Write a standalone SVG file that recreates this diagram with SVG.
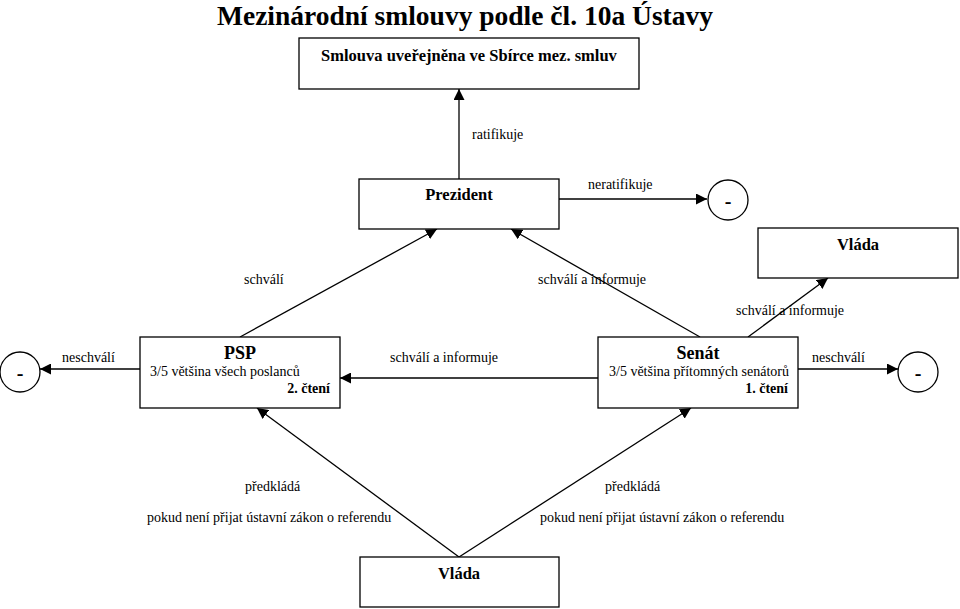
<svg xmlns="http://www.w3.org/2000/svg" width="960" height="609" viewBox="0 0 960 609" font-family="'Liberation Serif','Times New Roman',serif">
<defs>
<style>
text{font-family:"Liberation Serif","Times New Roman",serif;fill:#000}
.t{font-size:27.5px;font-weight:bold}
.b{font-size:16.5px;font-weight:bold}
.h{font-size:18px;font-weight:bold}
.r{font-size:14px}
.s{font-size:14px}
.m{font-size:20px;font-weight:bold}
.box{fill:#fff;stroke:#000;stroke-width:1.3}
.c{fill:#fff;stroke:#000;stroke-width:1.3}
.ln{stroke:#000;stroke-width:1.3;fill:none;marker-end:url(#ah)}
</style>
<marker id="ah" viewBox="0 0 10 10" refX="10" refY="5" markerWidth="11" markerHeight="11" markerUnits="userSpaceOnUse" orient="auto">
<path d="M0,0 L10,5 L0,10 z" fill="#000"/>
</marker>
</defs>
<rect width="960" height="609" fill="#fff"/>
<text class="t" x="465" y="25" text-anchor="middle">Mezinárodní smlouvy podle čl. 10a Ústavy</text>

<g id="connectors">
<line class="ln" x1="459" y1="179" x2="459" y2="89"/>
<line class="ln" x1="559" y1="199" x2="707" y2="199"/>
<line class="ln" x1="240" y1="337" x2="437" y2="229"/>
<line class="ln" x1="700" y1="337" x2="511" y2="229"/>
<line class="ln" x1="748" y1="337" x2="828" y2="278"/>
<line class="ln" x1="140" y1="369" x2="40" y2="369"/>
<line class="ln" x1="598" y1="378" x2="340" y2="378"/>
<line class="ln" x1="798" y1="369" x2="898" y2="369"/>
<line class="ln" x1="459" y1="557" x2="257" y2="408"/>
<line class="ln" x1="459" y1="557" x2="691" y2="408"/>
<text class="r" x="472" y="139">ratifikuje</text>
<text class="r" x="588" y="189">neratifikuje</text>
<text class="r" x="244" y="284">schválí</text>
<text class="r" x="538" y="284">schválí a informuje</text>
<text class="r" x="736" y="315">schválí a informuje</text>
<text class="r" x="62" y="362">neschválí</text>
<text class="r" x="390" y="362">schválí a informuje</text>
<text class="r" x="812" y="362">neschválí</text>
<text class="r" x="245" y="491">předkládá</text>
<text class="r" x="147" y="522">pokud není přijat ústavní zákon o referendu</text>
<text class="r" x="605" y="491">předkládá</text>
<text class="r" x="540" y="522">pokud není přijat ústavní zákon o referendu</text>
</g>

<g id="smlouva">
<rect class="box" x="299" y="38" width="340" height="51"/>
<text class="b" x="469" y="61" text-anchor="middle">Smlouva uveřejněna ve Sbírce mez. smluv</text>
</g>
<g id="prezident">
<rect class="box" x="359" y="179" width="200" height="50"/>
<text class="b" x="459" y="200" text-anchor="middle">Prezident</text>
</g>
<g id="minus-prezident">
<circle class="c" cx="728" cy="200" r="20"/>
<text class="m" x="728" y="208" text-anchor="middle">-</text>
</g>
<g id="vlada-top">
<rect class="box" x="758" y="228" width="200" height="50"/>
<text class="b" x="858" y="250" text-anchor="middle">Vláda</text>
</g>
<g id="psp">
<rect class="box" x="140" y="337" width="200" height="71"/>
<text class="h" x="240" y="359" text-anchor="middle">PSP</text>
<text class="s" x="150" y="376">3/5 většina všech poslanců</text>
<text class="s" x="330" y="393" text-anchor="end" font-weight="bold">2. čtení</text>
</g>
<g id="minus-psp">
<circle class="c" cx="20" cy="372" r="20"/>
<text class="m" x="20" y="380" text-anchor="middle">-</text>
</g>
<g id="senat">
<rect class="box" x="598" y="337" width="200" height="71"/>
<text class="h" x="698" y="359" text-anchor="middle">Senát</text>
<text class="s" x="609" y="376">3/5 většina přítomných senátorů</text>
<text class="s" x="788" y="393" text-anchor="end" font-weight="bold">1. čtení</text>
</g>
<g id="minus-senat">
<circle class="c" cx="918" cy="372" r="20"/>
<text class="m" x="918" y="380" text-anchor="middle">-</text>
</g>
<g id="vlada-bottom">
<rect class="box" x="360" y="557" width="199" height="50"/>
<text class="b" x="459" y="579" text-anchor="middle">Vláda</text>
</g>
</svg>
